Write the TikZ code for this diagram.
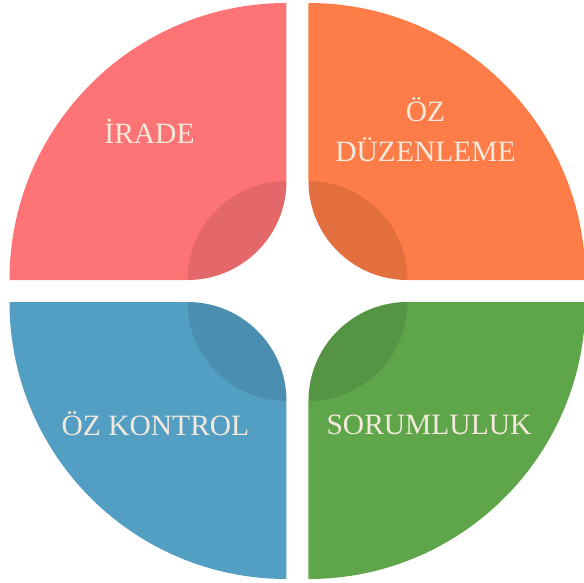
\documentclass[tikz,border=0pt]{standalone}
\usepackage{fontspec}
\setmainfont{Liberation Serif}
\definecolor{irade}{RGB}{254,115,117}
\definecolor{duzen}{RGB}{253,124,71}
\definecolor{kontrol}{RGB}{83,159,196}
\definecolor{sorum}{RGB}{95,165,74}
\definecolor{cream}{RGB}{243,233,220}
\newcommand{\outerR}{277}
\newcommand{\innerR}{99}
\newcommand{\halfgap}{11}
\tikzset{
  lens/.style={fill=black,fill opacity=0.1},
  word/.style={text=cream,font=\fontsize{29.5}{40}\selectfont,align=center,inner sep=0pt},
  petal/.pic={
    \fill[#1] (\halfgap+\outerR,\halfgap) arc[start angle=0,end angle=90,radius=\outerR]
      -- (\halfgap,\halfgap+\innerR) arc[start angle=180,end angle=270,radius=\innerR] -- cycle;
    \fill[lens] (\halfgap,\halfgap+\innerR) arc[start angle=90,end angle=0,radius=\innerR]
      arc[start angle=270,end angle=180,radius=\innerR] -- cycle;
  }
}

\begin{document}
\begin{tikzpicture}[x=1pt,y=1pt]
  \useasboundingbox (-297.5,-291) rectangle (286.5,291);

  \pic[xscale=-1] {petal=irade};
  \pic {petal=duzen};
  \pic[xscale=-1,yscale=-1] {petal=kontrol};
  \pic[yscale=-1] {petal=sorum};

  \node[word,anchor=base] (iradetext) at (-148,148) {İRADE};
  \node[word] (duzentext) at (128,161) {ÖZ\\DÜZENLEME};
  \node[word,anchor=base] (kontroltext) at (-142,-144) {ÖZ KONTROL};
  \node[word,anchor=base] (sorumtext) at (131.5,-143) {SORUMLULUK};
\end{tikzpicture}
\end{document}
